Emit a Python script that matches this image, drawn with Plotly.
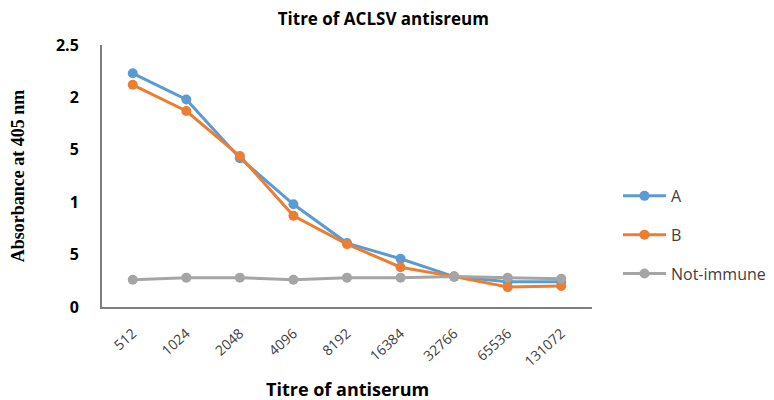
import plotly.graph_objects as go

categories = ["512", "1024", "2048", "4096", "8192", "16384", "32766", "65536", "131072"]
series_a = [2.23, 1.98, 1.42, 0.98, 0.61, 0.46, 0.29, 0.24, 0.24]
series_b = [2.12, 1.87, 1.44, 0.87, 0.60, 0.38, 0.29, 0.19, 0.20]
not_immune = [0.26, 0.28, 0.28, 0.26, 0.28, 0.28, 0.29, 0.28, 0.27]
y_tickvals = [0, 0.5, 1, 1.5, 2, 2.5]
y_ticktext = ["0", "5", "1", "5", "2", "2.5"]

fig = go.Figure()
for name, vals, col in [("A", series_a, "#5B9BD5"), ("B", series_b, "#ED7D31"),
                        ("Not-immune", not_immune, "#A5A5A5")]:
    fig.add_trace(go.Scatter(x=categories, y=vals, name=name, mode="lines+markers",
                             line=dict(color=col, width=3),
                             marker=dict(color=col, size=10),
                             legendgroup=name))

# page has an 8px body margin, so figure is 766x392 and offsets are compensated
fig.update_layout(
    width=766, height=392,
    margin=dict(l=94, r=182, t=37, b=93, autoexpand=False),
    paper_bgcolor="white", plot_bgcolor="white",
    title=dict(text="<b>Titre of ACLSV antisreum</b>", x=0.49, xanchor="center",
               y=0.972, yanchor="middle",
               font=dict(family="Open Sans", size=17, color="black")),
    showlegend=True,
    legend=dict(x=1.053, xanchor="left", y=0.275, yanchor="middle",
                itemwidth=43, tracegroupgap=15,
                font=dict(family="Open Sans", size=16, color="#404040")),
    xaxis=dict(type="category", showline=True, linecolor="#7f7f7f", linewidth=2,
               showgrid=False, ticks="", tickangle=-42, automargin=False,
               ticklabelstandoff=11,
               tickfont=dict(family="Open Sans", size=14, color="#404040")),
    yaxis=dict(range=[0, 2.5], showline=True, linecolor="#7f7f7f", linewidth=2,
               showgrid=False, zeroline=False, ticks="", automargin=False,
               ticklabelstandoff=18,
               tickvals=y_tickvals, ticktext=y_ticktext,
               tickfont=dict(family="Open Sans", size=16, color="black", weight="bold"),
               title=dict(text="<b>Absorbance at 405 nm</b>", standoff=27,
                          font=dict(family="Liberation Serif, Times New Roman, serif",
                                    size=18, color="black"))),
    annotations=[dict(text="<b>Titre of antiserum</b>", xref="paper", yref="paper",
                      x=0.5, y=-0.312, xanchor="center", yanchor="middle",
                      showarrow=False,
                      font=dict(family="Open Sans", size=18, color="black"))],
)

fig.write_html("out.html")
